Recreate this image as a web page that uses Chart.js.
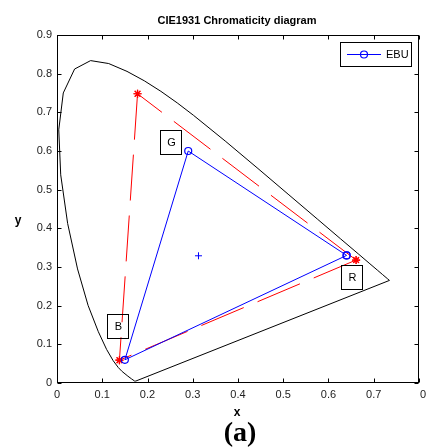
<!DOCTYPE html>
<html>
<head>
<meta charset="utf-8">
<script src="https://cdn.jsdelivr.net/npm/chart.js@4.4.0/dist/chart.umd.min.js"></script>
<style>
  body { margin: 0; background: #fff; }
  canvas { display: block; }
</style>
</head>
<body>
<canvas id="myChart" width="426" height="448"></canvas>
<script>
// spectral locus, closed back to the start by the purple line
let locus_x = [0.1741, 0.1714, 0.1644, 0.1566, 0.1440, 0.1355, 0.1241, 0.1096, 0.0913, 0.0687, 0.0454, 0.0235, 0.0082, 0.0039, 0.0139, 0.0389, 0.0743, 0.1142, 0.1547, 0.1929, 0.2296, 0.2658, 0.3016, 0.3731, 0.4441, 0.5125, 0.5752, 0.6270, 0.6658, 0.6915, 0.7079, 0.7190, 0.7300, 0.7347, 0.1741];
let locus_y = [0.0050, 0.0051, 0.0109, 0.0177, 0.0297, 0.0399, 0.0578, 0.0868, 0.1327, 0.2007, 0.2950, 0.4127, 0.5384, 0.6548, 0.7502, 0.8120, 0.8338, 0.8262, 0.8059, 0.7816, 0.7543, 0.7243, 0.6923, 0.6245, 0.5547, 0.4866, 0.4242, 0.3725, 0.3340, 0.3083, 0.2920, 0.2809, 0.2700, 0.2653, 0.0050];

// EBU primaries (R, G, B)
let ebu_x = [0.64, 0.29, 0.15];
let ebu_y = [0.33, 0.60, 0.06];

// red dashed gamut (R, G, B)
let red_x = [0.661, 0.178, 0.138];
let red_y = [0.318, 0.748, 0.059];

// white point
let white_x = [0.3127];
let white_y = [0.3290];

// boxed labels
let box_labels = ['G', 'R', 'B'];
let box_x = [0.252, 0.653, 0.135];
let box_y = [0.623, 0.274, 0.147];

let x_tick_labels = ['0', '0.1', '0.2', '0.3', '0.4', '0.5', '0.6', '0.7', '0.8'];
let y_tick_labels = ['0', '0.1', '0.2', '0.3', '0.4', '0.5', '0.6', '0.7', '0.8', '0.9'];

function pts(xs, ys, idx) {
  let out = [];
  for (let i = 0; i < idx.length; i++) out.push({x: xs[idx[i]], y: ys[idx[i]]});
  return out;
}

let ebu_line = pts(ebu_x, ebu_y, [0, 1, 2, 0]);
// red sides drawn one by one, each with its own dash start
let red_sides = [[0, 1], [1, 2], [0, 2]];

let datasets = [{
  label: 'EBU',
  data: ebu_line,
  showLine: true,
  borderColor: '#0000ff',
  borderWidth: 1,
  pointStyle: 'circle',
  pointRadius: 3.5,
  pointBorderWidth: 1.2,
  pointBorderColor: '#0000ff',
  pointBackgroundColor: 'rgba(0,0,0,0)'
}];
for (let i = 0; i < red_sides.length; i++) {
  datasets.push({
    label: 'red' + i,
    data: pts(red_x, red_y, red_sides[i]),
    showLine: true,
    borderColor: '#ff0000',
    borderWidth: 1,
    borderDash: [46, 15],
    pointStyle: 'star',
    pointRadius: 4,
    pointBorderWidth: 1.2,
    pointBorderColor: '#ff0000'
  });
}
datasets.push({
  label: 'locus',
  data: pts(locus_x, locus_y, locus_x.map((v, i) => i)),
  showLine: true,
  borderColor: '#000000',
  borderWidth: 1,
  pointRadius: 0
});
datasets.push({
  label: 'white',
  data: pts(white_x, white_y, [0]),
  showLine: false,
  pointStyle: 'cross',
  pointRadius: 3.5,
  pointBorderWidth: 1,
  pointBorderColor: '#0000ff'
});

const tickFont = '11px "Liberation Sans", Arial, sans-serif';

let decor = {
  id: 'decor',
  beforeDraw(chart) {
    let ctx = chart.ctx;
    ctx.save();
    ctx.fillStyle = '#fff';
    ctx.fillRect(0, 0, chart.width, chart.height);
    ctx.restore();
  },
  afterDraw(chart) {
    let ctx = chart.ctx;
    let a = chart.chartArea;
    let sx = chart.scales.x, sy = chart.scales.y;
    let L = Math.round(a.left) + 0.5, R = Math.round(a.right) - 0.5;
    let T = Math.round(a.top) + 0.5, B = Math.round(a.bottom) - 0.5;
    ctx.save();
    ctx.strokeStyle = '#000';
    ctx.lineWidth = 1;
    ctx.strokeRect(L, T, R - L, B - T);
    // inward ticks on all four sides
    ctx.beginPath();
    sx.ticks.forEach(t => {
      let p = Math.round(sx.getPixelForValue(t.value)) + 0.5;
      ctx.moveTo(p, B); ctx.lineTo(p, B - 4);
      ctx.moveTo(p, T); ctx.lineTo(p, T + 4);
    });
    sy.ticks.forEach(t => {
      let p = Math.round(sy.getPixelForValue(t.value)) + 0.5;
      ctx.moveTo(L, p); ctx.lineTo(L + 4, p);
      ctx.moveTo(R, p); ctx.lineTo(R - 4, p);
    });
    ctx.stroke();

    // last x label runs off the right edge, as in the original
    let last = sx.ticks.length - 1;
    ctx.font = tickFont;
    ctx.fillStyle = '#222';
    ctx.textAlign = 'left';
    ctx.textBaseline = 'middle';
    ctx.fillText(x_tick_labels[last], sx.getPixelForValue(sx.ticks[last].value) + 1, a.bottom + 12);

    // boxed labels
    ctx.font = '11px "Liberation Sans", Arial, sans-serif';
    ctx.textAlign = 'center';
    ctx.fillStyle = '#000';
    for (let i = 0; i < box_labels.length; i++) {
      let cx = Math.round(sx.getPixelForValue(box_x[i]));
      let cy = Math.round(sy.getPixelForValue(box_y[i]));
      ctx.strokeRect(cx - 10.5, cy - 11.5, 21, 24);
      ctx.fillText(box_labels[i], cx + 0.5, cy + 1);
    }

    // legend
    let lx = Math.round(a.right) - 79, ly = Math.round(a.top) + 7;
    ctx.fillStyle = '#fff';
    ctx.fillRect(lx, ly, 71, 24);
    ctx.strokeRect(lx + 0.5, ly + 0.5, 71, 24);
    ctx.strokeStyle = '#0000ff';
    ctx.beginPath();
    ctx.moveTo(lx + 7, ly + 12.5);
    ctx.lineTo(lx + 41, ly + 12.5);
    ctx.stroke();
    ctx.lineWidth = 1.2;
    ctx.beginPath();
    ctx.arc(lx + 24, ly + 12.5, 3.5, 0, Math.PI * 2);
    ctx.stroke();
    ctx.fillStyle = '#000';
    ctx.textAlign = 'left';
    ctx.fillText('EBU', lx + 46, ly + 13);

    // title and axis names
    ctx.textAlign = 'center';
    ctx.font = 'bold 11px "Liberation Sans", Arial, sans-serif';
    ctx.fillText('CIE1931 Chromaticity diagram', 237, 21);
    ctx.font = 'bold 12px "Liberation Sans", Arial, sans-serif';
    ctx.fillText('x', 237, 413);
    ctx.fillText('y', 18, 221);
    ctx.font = 'bold 28px "Liberation Serif", "Times New Roman", serif';
    ctx.fillText('(a)', 240, 434);
    ctx.restore();
  }
};

function fixX(scale) { scale.height = 65; scale.paddingLeft = 0; scale.paddingRight = 0; }
function fixY(scale) { scale.width = 57; scale.paddingTop = 0; scale.paddingBottom = 0; }

var config = {
  type: 'scatter',
  data: { datasets: datasets },
  options: {
    responsive: false,
    animation: false,
    devicePixelRatio: 1,
    layout: { padding: { left: 0, top: 35, right: 7, bottom: 0 } },
    plugins: { legend: { display: false }, tooltip: { enabled: false } },
    scales: {
      x: {
        type: 'linear', min: 0, max: 0.8,
        grid: { display: false, drawTicks: false },
        border: { display: false },
        ticks: {
          stepSize: 0.1, padding: 5, color: '#222', maxRotation: 0, autoSkip: false,
          font: { family: '"Liberation Sans", Arial, sans-serif', size: 11 },
          callback: (v, i) => (i === x_tick_labels.length - 1 ? '' : x_tick_labels[i])
        },
        afterFit: fixX
      },
      y: {
        type: 'linear', min: 0, max: 0.9,
        grid: { display: false, drawTicks: false },
        border: { display: false },
        ticks: {
          stepSize: 0.1, padding: 5, color: '#222', autoSkip: false,
          font: { family: '"Liberation Sans", Arial, sans-serif', size: 11 },
          callback: (v, i) => y_tick_labels[i]
        },
        afterFit: fixY
      }
    }
  },
  plugins: [decor]
};

var ctx = document.getElementById('myChart').getContext('2d');
window.myChart = new Chart(ctx, config);
</script>
</body>
</html>
